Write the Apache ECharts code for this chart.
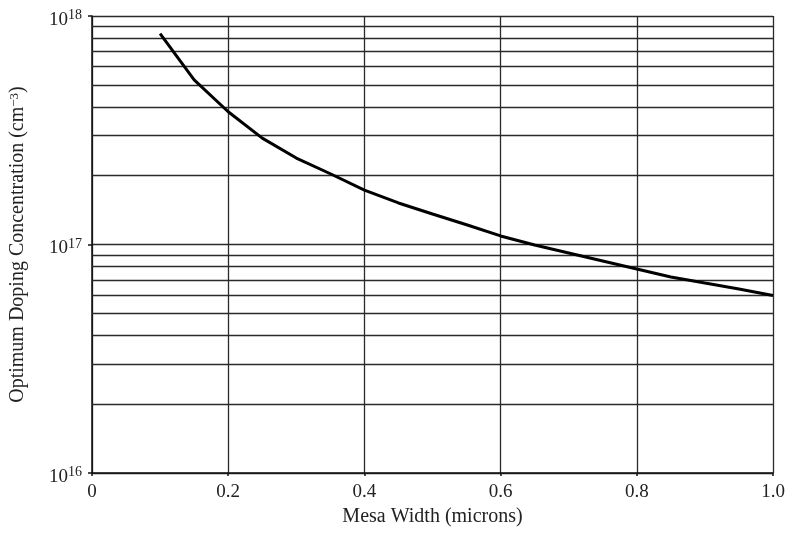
<!DOCTYPE html>
<html><head><meta charset="utf-8">
<script src="https://cdn.jsdelivr.net/npm/echarts@6/dist/echarts.min.js"></script>
<style>html,body{margin:0;padding:0;background:#fff}#c{width:788px;height:534px}</style>
</head><body><div id="c"></div>
<script>
const widths = [0.1,0.15,0.2,0.25,0.3,0.35,0.4,0.45,0.5,0.55,0.6,0.65,0.7,0.75,0.8,0.85,0.9,0.95,1.0];
const doping = [8.38e17,5.25e17,3.81e17,2.92e17,2.39e17,2.04e17,1.73e17,1.52e17,1.36e17,1.22e17,1.09e17,9.95e16,9.18e16,8.47e16,7.81e16,7.21e16,6.78e16,6.39e16,5.98e16];
const decades = [1e16, 1e17];
const minorMults = [2,3,4,5,6,7,8,9];
const xTicks = [0,0.2,0.4,0.6,0.8,1.0];

const minorLines = [];
decades.forEach(d => minorMults.forEach(m => minorLines.push({yAxis: d*m})));

const font = '"Liberation Serif", "Times New Roman", serif';
const gridColor = '#2a2a2a';
const chart = echarts.init(document.getElementById('c'));
chart.setOption({
  animation:false,
  backgroundColor:'#fff',
  textStyle:{fontFamily:font},
  grid:{left:92,right:15,top:16,bottom:61,outerBoundsMode:'none',containLabel:false},
  xAxis:{
    type:'value',min:0,max:1,interval:0.2,
    name:'Mesa Width (microns)',nameLocation:'middle',nameGap:33,
    nameTextStyle:{fontFamily:font,fontSize:20,color:'#222'},
    axisLine:{lineStyle:{color:'#111',width:1.5}},
    axisTick:{show:true,length:3,lineStyle:{color:'#111',width:1.5}},
    axisLabel:{fontFamily:font,fontSize:19,color:'#222',margin:10,
      formatter:v=>v===0?'0':v.toFixed(1)},
    splitLine:{show:true,lineStyle:{color:gridColor,width:1.3}}
  },
  yAxis:{
    type:'log',logBase:10,min:1e16,max:1e18,
    name:'{a|Optimum Doping Concentration (cm}{b|−3}{a|)}',
    nameLocation:'middle',nameGap:64,nameRotate:90,
    nameTextStyle:{fontFamily:font,color:'#222',
      rich:{a:{fontFamily:font,fontSize:20,color:'#222'},
            b:{fontFamily:font,fontSize:13,color:'#222',verticalAlign:'top',padding:[0,0,7,0]}}},
    axisLine:{show:true,lineStyle:{color:'#111',width:1.5}},
    axisTick:{show:true,length:4,lineStyle:{color:'#111',width:1.5}},
    axisLabel:{fontFamily:font,color:'#222',margin:10,padding:[8,0,0,0],
      formatter:v=>'{a|10}{b|'+Math.round(Math.log10(v))+'}',
      rich:{a:{fontFamily:font,fontSize:19,color:'#222'},
            b:{fontFamily:font,fontSize:14,color:'#222',verticalAlign:'top',padding:[0,0,9,0]}}},
    splitLine:{show:true,lineStyle:{color:gridColor,width:1.3}},
    minorSplitLine:{show:false}
  },
  series:[{
    type:'line',
    data:widths.map((w,i)=>[w,doping[i]]),
    showSymbol:false,smooth:false,
    lineStyle:{color:'#000',width:3},
    z:5,
    markLine:{silent:true,symbol:'none',animation:false,
      label:{show:false},
      lineStyle:{type:'solid',color:gridColor,width:1.3},
      data:minorLines}
  }]
});
</script></body></html>
